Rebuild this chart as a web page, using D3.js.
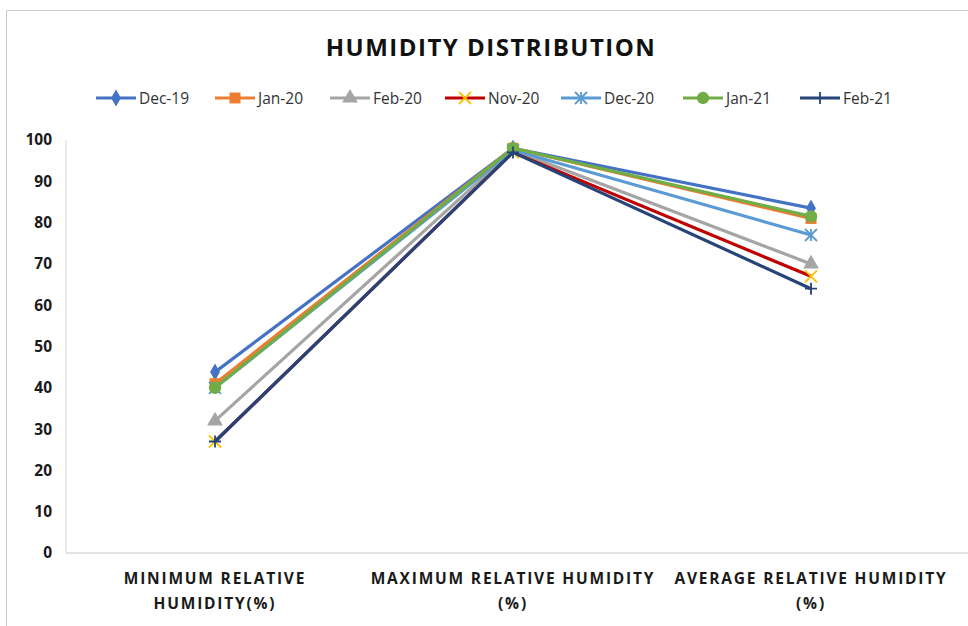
<!DOCTYPE html>
<html>
<head>
<meta charset="utf-8">
<script src="https://cdn.jsdelivr.net/npm/d3@7"></script>
<style>
  body { margin: 0; background: #fff; }
  svg { display: block; }
</style>
</head>
<body>
<script>
// data
const categories = ["MINIMUM RELATIVE HUMIDITY(%)", "MAXIMUM RELATIVE HUMIDITY (%)", "AVERAGE RELATIVE HUMIDITY (%)"];
const categoryLines = [["MINIMUM RELATIVE", "HUMIDITY(%)"], ["MAXIMUM RELATIVE HUMIDITY", "(%)"], ["AVERAGE RELATIVE HUMIDITY", "(%)"]];
const seriesNames = ["Dec-19", "Jan-20", "Feb-20", "Nov-20", "Dec-20", "Jan-21", "Feb-21"];
const dec19 = [43.8, 98, 83.5];
const jan20 = [41, 98, 81];
const feb20 = [32, 97.5, 70];
const nov20 = [27, 97, 67];
const dec20 = [40, 97.5, 77];
const jan21 = [40, 98, 81.5];
const feb21 = [27, 97, 64];
const seriesValues = [dec19, jan20, feb20, nov20, dec20, jan21, feb21];
const yTicks = [0, 10, 20, 30, 40, 50, 60, 70, 80, 90, 100];

const colors = ["#4472C4", "#ED7D31", "#A5A5A5", "#C00000", "#5B9BD5", "#70AD47", "#264478"];
const markerColors = ["#4472C4", "#ED7D31", "#A5A5A5", "#FFC000", "#5B9BD5", "#70AD47", "#264478"];
const markers = ["diamond", "square", "triangle", "x", "star", "circle", "plus"];

const width = 968, height = 626;
const margin = {left: 66, right: 8, top: 140, bottom: 73};

const svg = d3.select("body").append("svg")
    .attr("width", width)
    .attr("height", height)
    .style("font-family", "'Open Sans', sans-serif");

// dotted chart border
svg.append("rect")
    .attr("x", 6.5).attr("y", 10.5)
    .attr("width", width + 20).attr("height", height + 20)
    .attr("fill", "none")
    .attr("stroke", "#999")
    .attr("stroke-dasharray", "1,1");

const x = d3.scalePoint()
    .domain(categories)
    .range([margin.left, width - margin.right])
    .padding(0.5);

const y = d3.scaleLinear()
    .domain([0, 100])
    .range([height - margin.bottom, margin.top]);

// axis lines
svg.append("line")
    .attr("x1", margin.left).attr("x2", margin.left)
    .attr("y1", y(100)).attr("y2", y(0))
    .attr("stroke", "#e3e3e3").attr("stroke-width", 1.5);
svg.append("line")
    .attr("x1", margin.left).attr("x2", width)
    .attr("y1", y(0)).attr("y2", y(0))
    .attr("stroke", "#d9d9d9").attr("stroke-width", 1.5);

// y tick labels
const yAxis = svg.append("g")
    .attr("transform", `translate(${margin.left},0)`)
    .call(d3.axisLeft(y).tickValues(yTicks).tickSize(0).tickPadding(14));
yAxis.select(".domain").remove();
yAxis.selectAll("text")
    .attr("font-family", "'Open Sans', sans-serif")
    .attr("font-size", 15.5)
    .attr("font-weight", "bold")
    .attr("fill", "#1a1a1a");

// category labels
const xl = svg.append("g");
categories.forEach((c, i) => {
  const t = xl.append("text")
      .attr("x", x(c))
      .attr("y", 584)
      .attr("text-anchor", "middle")
      .attr("font-size", 15.5)
      .attr("font-weight", "bold")
      .attr("letter-spacing", 1.8)
      .attr("fill", "#1a1a1a");
  categoryLines[i].forEach((ln, j) => {
    t.append("tspan").attr("x", x(c)).attr("dy", j ? 25 : 0).text(ln);
  });
});

function markerPath(type, s) {
  switch (type) {
    case "diamond": return d3.symbol(d3.symbolDiamond, s * 7)();
    case "square": return d3.symbol(d3.symbolSquare, s * 10)();
    case "triangle": return d3.symbol(d3.symbolTriangle, s * 9)();
    case "circle": return d3.symbol(d3.symbolCircle, s * 10)();
    case "x": return `M${-s/2},${-s/2}L${s/2},${s/2}M${-s/2},${s/2}L${s/2},${-s/2}`;
    case "plus": return `M0,${-s/2}V${s/2}M${-s/2},0H${s/2}`;
    case "star": return `M${-s/2},${-s/2}L${s/2},${s/2}M${-s/2},${s/2}L${s/2},${-s/2}M0,${-s/2}V${s/2}`;
  }
}
const stroked = t => t === "x" || t === "plus" || t === "star";

function drawMarker(g, i, cx, cy) {
  const t = markers[i];
  g.append("path")
      .attr("transform", `translate(${cx},${cy})`)
      .attr("d", markerPath(t, 12))
      .attr("fill", stroked(t) ? "none" : markerColors[i])
      .attr("stroke", stroked(t) ? markerColors[i] : "none")
      .attr("stroke-width", 1.8);
}

const line = d3.line()
    .x((d, i) => x(categories[i]))
    .y(d => y(d));

const plot = svg.append("g");
seriesValues.forEach((vals, i) => {
  const g = plot.append("g");
  g.append("path")
      .datum(vals)
      .attr("d", line)
      .attr("fill", "none")
      .attr("stroke", colors[i])
      .attr("stroke-width", 3.2)
      .attr("stroke-linejoin", "round");
  vals.forEach((v, k) => drawMarker(g, i, x(categories[k]), y(v)));
});

// title
svg.append("text")
    .attr("x", 491)
    .attr("y", 56)
    .attr("text-anchor", "middle")
    .attr("font-size", 24)
    .attr("font-weight", "bold")
    .attr("letter-spacing", 1.5)
    .attr("fill", "#111")
    .text("HUMIDITY DISTRIBUTION");

// legend
const legendX = [96, 215, 330, 445, 561, 683, 800];
const legend = svg.append("g");
seriesNames.forEach((n, i) => {
  const g = legend.append("g").attr("transform", `translate(${legendX[i]},98)`);
  g.append("line")
      .attr("x1", 0).attr("x2", 40)
      .attr("stroke", colors[i]).attr("stroke-width", 3.2);
  drawMarker(g, i, 20, 0);
  g.append("text")
      .attr("x", 43)
      .attr("dy", "0.36em")
      .attr("font-size", 15.5)
      .attr("fill", "#333")
      .text(n);
});
</script>
</body>
</html>
